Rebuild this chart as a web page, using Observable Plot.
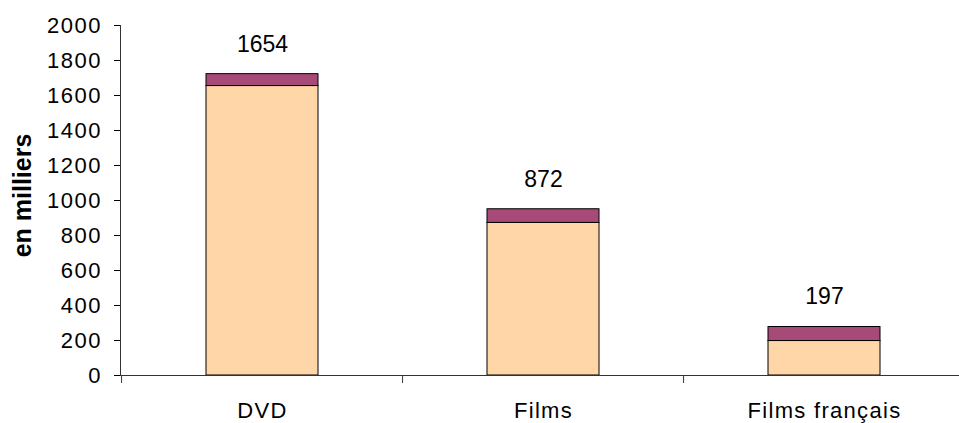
<!DOCTYPE html>
<html>
<head>
<meta charset="utf-8">
<script src="https://cdn.jsdelivr.net/npm/d3@7"></script>
<script src="https://cdn.jsdelivr.net/npm/@observablehq/plot@0.6"></script>
<style>
  html, body { margin: 0; padding: 0; background: #fff; }
  #chart svg { display: block; overflow: visible; }
</style>
</head>
<body>
<div id="chart"></div>
<script>
// Categories and stacked series (thousands)
const categories = ["DVD", "Films", "Films français"];
const mainValues = [1654, 872, 197];   // labelled lower segment
const topValues = [68, 78, 80];        // upper segment
const yTicks = [0, 200, 400, 600, 800, 1000, 1200, 1400, 1600, 1800, 2000];
const yLabel = "en milliers";

const rows = [];
categories.forEach((c, i) => {
  rows.push({cat: c, part: "main", value: mainValues[i]});
  rows.push({cat: c, part: "top", value: topValues[i]});
});
const totals = categories.map((c, i) => ({cat: c, label: mainValues[i], total: mainValues[i] + topValues[i]}));

const W = 959, H = 423;
const xRange = [120.5, 966];
const step = (xRange[1] - xRange[0]) / categories.length;
const font = "Liberation Sans, Arial, Helvetica, sans-serif";

const chart = Plot.plot({
  width: W,
  height: H,
  marginLeft: 120,
  marginRight: 0,
  marginTop: 25,
  marginBottom: 48,
  style: {fontFamily: font, fontSize: "20px", color: "#000", background: "#fff"},
  x: {domain: categories, range: xRange, paddingInner: 0.6, paddingOuter: 0.3, label: null},
  y: {domain: [0, 2000], label: null},
  color: {domain: ["main", "top"], range: ["#FFD6A8", "#A84A78"]},
  marks: [
    Plot.barY(rows, Plot.stackY({x: "cat", y: "value", fill: "part", stroke: "#000", strokeWidth: 1, order: ["main", "top"]})),
    Plot.ruleY([0], {stroke: "#333", strokeWidth: 1}),
    // category boundary ticks under the baseline
    Plot.ruleX(categories, {x: d => d, dx: -step / 2, y1: 0, y2: 0, insetBottom: -8, stroke: "#333"}),
    Plot.axisY({ticks: yTicks, tickSize: 6, tickPadding: 12.5, tickFormat: d => String(d), fontSize: 22, label: null}),
    Plot.axisX({tickSize: 0, tickPadding: 27, fontSize: 22, label: null}),
    Plot.frame({anchor: "left", stroke: "#333"}),
    Plot.text(totals, {x: "cat", y: "total", text: d => String(d.label), dy: -30, fontSize: 23, fill: "#000"}),
    Plot.text([yLabel], {frameAnchor: "left", text: d => d, rotate: -90, dx: -98, dy: -5, textAnchor: "middle",
      fontSize: 25, fontWeight: "bold", fill: "#000", ariaLabel: "y title"})
  ]
});

// widen the glyph runs slightly
const svg = d3.select(chart);
svg.selectAll('[aria-label="y-axis tick label"] text').style("letter-spacing", "1.5px");
svg.selectAll('[aria-label="x-axis tick label"] text').style("letter-spacing", "1.3px");
svg.selectAll('[aria-label="y title"] text').style("letter-spacing", "2.2px");

document.getElementById("chart").appendChild(chart);
</script>
</body>
</html>
